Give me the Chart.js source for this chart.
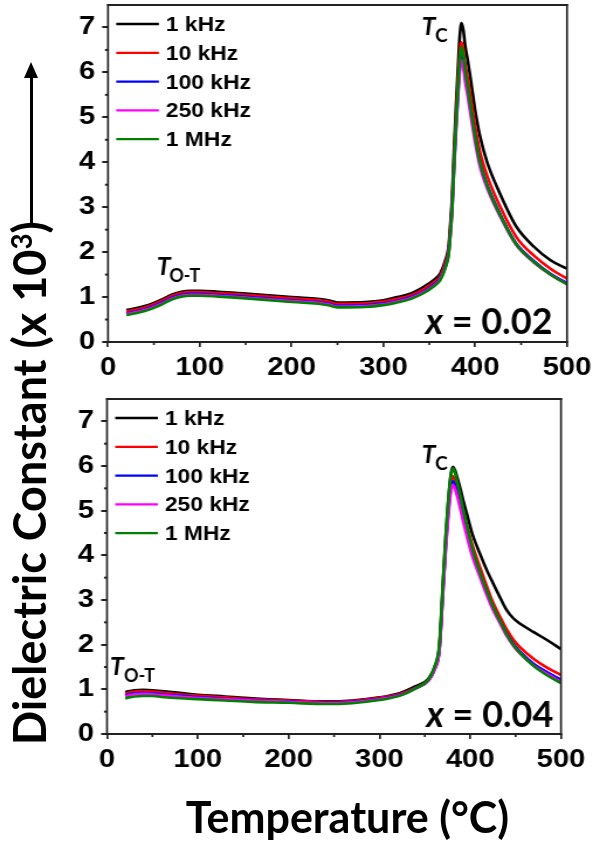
<!DOCTYPE html>
<html>
<head>
<meta charset="utf-8">
<title>Dielectric constant vs temperature</title>
<script src="https://cdn.jsdelivr.net/npm/chart.js@4.4.1/dist/chart.umd.min.js"></script>
<style>
  html, body { margin: 0; padding: 0; background: #fff; }
  body { width: 593px; height: 845px; position: relative; overflow: hidden; }
  canvas { position: absolute; left: 0; }
  .title { position: absolute; font-family: Lato, 'Open Sans', sans-serif; font-weight: 700;
           color: #000; white-space: nowrap; line-height: 1; }
  #ytitle { left: 7.1px; top: 745px; font-size: 45px; transform-origin: 0 0; transform: rotate(-90deg); }
  #ytitle sup { font-size: 0.62em; position: relative; top: -0.52em; vertical-align: baseline; line-height: 0; }
  #xtitle { left: 347.5px; top: 794.9px; font-size: 43px; transform: translateX(-50%); }
  #yline { position: absolute; left: 29.5px; top: 76px; width: 3px; height: 151px; background: #000; }
  #yhead { position: absolute; left: 24px; top: 62px; width: 0; height: 0;
           border-left: 7px solid transparent; border-right: 7px solid transparent; border-bottom: 16px solid #000; }
</style>
</head>
<body>
<canvas id="panelA" width="507" height="385" style="top:0;width:593px;height:385px"></canvas>
<canvas id="panelB" width="507" height="460" style="top:385px;width:593px;height:460px"></canvas>
<div id="ytitle" class="title">Dielectric Constant (x 10<sup>3</sup>)</div>
<div id="yline"></div>
<div id="yhead"></div>
<div id="xtitle" class="title">Temperature (°C)</div>
<script>
// ---- data -------------------------------------------------------------
const freqLabels = ['1 kHz', '10 kHz', '100 kHz', '250 kHz', '1 MHz'];
const compositions = ['0.02', '0.04'];
const xTickValues = [0, 100, 200, 300, 400, 500];
const yTickValues = [0, 1, 2, 3, 4, 5, 6, 7];

// x = 0.02 : temperature (°C) and dielectric constant (x 10^3)
const tempA = [20, 30, 40, 50, 60, 70, 80, 90, 100, 120, 150, 200, 240, 245, 250, 280, 300,
  315, 330, 344, 355, 362, 368, 371, 373, 375, 377, 379, 381, 383, 385, 387, 389, 392, 395,
  400, 405, 413, 427, 445, 464, 482, 500];
const epsA_1kHz = [0.71, 0.75, 0.80, 0.87, 0.96, 1.06, 1.12, 1.14, 1.14, 1.12, 1.08, 1.00, 0.93, 0.90, 0.88, 0.89, 0.93,
  1.00, 1.08, 1.23, 1.38, 1.53, 1.85, 2.12, 2.65, 3.30, 4.30, 5.20, 6.00, 6.75, 7.10, 6.95, 6.60, 6.25, 5.85,
  5.15, 4.60, 4.00, 3.30, 2.56, 2.12, 1.82, 1.63];
const epsA_10kHz = [0.68, 0.72, 0.77, 0.84, 0.93, 1.03, 1.09, 1.11, 1.11, 1.09, 1.05, 0.97, 0.90, 0.87, 0.85, 0.86, 0.90,
  0.96, 1.04, 1.18, 1.33, 1.47, 1.78, 2.05, 2.55, 3.15, 4.10, 4.95, 5.70, 6.35, 6.67, 6.52, 6.20, 5.85, 5.45,
  4.80, 4.25, 3.70, 3.02, 2.33, 1.92, 1.63, 1.41];
const epsA_100kHz = [0.64, 0.68, 0.73, 0.80, 0.89, 0.99, 1.05, 1.07, 1.07, 1.05, 1.01, 0.93, 0.86, 0.83, 0.81, 0.82, 0.86,
  0.92, 1.00, 1.13, 1.28, 1.42, 1.72, 1.98, 2.45, 3.05, 3.95, 4.75, 5.45, 6.08, 6.38, 6.24, 5.92, 5.58, 5.18,
  4.55, 4.02, 3.50, 2.85, 2.18, 1.80, 1.52, 1.31];
const epsA_250kHz = [0.62, 0.66, 0.71, 0.78, 0.87, 0.97, 1.03, 1.05, 1.05, 1.03, 0.99, 0.91, 0.84, 0.81, 0.79, 0.80, 0.84,
  0.90, 0.98, 1.11, 1.26, 1.40, 1.70, 1.95, 2.40, 3.00, 3.88, 4.66, 5.36, 5.98, 6.27, 6.12, 5.80, 5.45, 5.05,
  4.43, 3.92, 3.42, 2.80, 2.15, 1.77, 1.50, 1.29];
const epsA_1MHz = [0.60, 0.64, 0.69, 0.76, 0.85, 0.95, 1.01, 1.03, 1.03, 1.01, 0.97, 0.89, 0.82, 0.79, 0.77, 0.78, 0.82,
  0.88, 0.96, 1.09, 1.24, 1.38, 1.68, 1.94, 2.40, 3.00, 3.95, 4.80, 5.55, 6.22, 6.56, 6.40, 6.05, 5.65, 5.22,
  4.55, 4.02, 3.48, 2.83, 2.16, 1.78, 1.50, 1.28];

// x = 0.04
const tempB = [20, 30, 40, 50, 60, 80, 100, 130, 160, 200, 240, 270, 300, 323, 340, 354, 361, 366, 370, 373,
  375, 377, 379, 381, 383, 386, 389, 392, 396, 402, 411, 418, 425, 433, 440, 448, 455, 470, 485, 500];
const epsB_1kHz = [0.94, 0.98, 0.99, 0.98, 0.96, 0.92, 0.88, 0.84, 0.80, 0.76, 0.73, 0.75, 0.82, 0.92, 1.07, 1.24, 1.51, 1.96, 3.35, 4.40,
  5.00, 5.50, 5.85, 5.98, 5.92, 5.72, 5.50, 5.25, 4.95, 4.50, 4.02, 3.68, 3.38, 3.05, 2.78, 2.58, 2.47, 2.28, 2.10, 1.90];
const epsB_10kHz = [0.91, 0.95, 0.96, 0.95, 0.93, 0.89, 0.86, 0.82, 0.78, 0.75, 0.72, 0.74, 0.81, 0.90, 1.04, 1.21, 1.47, 1.90, 3.25, 4.25,
  4.82, 5.30, 5.65, 5.77, 5.70, 5.50, 5.28, 5.02, 4.70, 4.25, 3.72, 3.32, 2.95, 2.62, 2.35, 2.10, 1.94, 1.68, 1.48, 1.32];
const epsB_100kHz = [0.87, 0.91, 0.92, 0.91, 0.89, 0.86, 0.83, 0.79, 0.76, 0.73, 0.70, 0.72, 0.79, 0.88, 1.03, 1.20, 1.46, 1.88, 3.20, 4.18,
  4.74, 5.20, 5.54, 5.66, 5.58, 5.38, 5.14, 4.88, 4.55, 4.10, 3.58, 3.20, 2.84, 2.52, 2.25, 2.00, 1.84, 1.57, 1.38, 1.21];
const epsB_250kHz = [0.85, 0.89, 0.90, 0.89, 0.87, 0.84, 0.81, 0.78, 0.75, 0.72, 0.69, 0.71, 0.78, 0.87, 1.02, 1.19, 1.45, 1.86, 3.15, 4.12,
  4.66, 5.12, 5.46, 5.58, 5.50, 5.30, 5.05, 4.78, 4.45, 4.00, 3.50, 3.12, 2.78, 2.47, 2.20, 1.96, 1.80, 1.53, 1.34, 1.17];
const epsB_1MHz = [0.80, 0.84, 0.85, 0.85, 0.83, 0.80, 0.78, 0.75, 0.72, 0.70, 0.67, 0.69, 0.76, 0.86, 1.02, 1.22, 1.52, 2.00, 3.40, 4.45,
  5.00, 5.48, 5.82, 5.95, 5.87, 5.62, 5.35, 5.05, 4.70, 4.18, 3.60, 3.22, 2.86, 2.52, 2.24, 1.98, 1.81, 1.52, 1.31, 1.14];

// ---- styling ----------------------------------------------------------
const seriesColors = ['#000000', '#ff0000', '#0000ff', '#ff00ff', '#008000'];
const axisColor = '#222222';
const tickFont = "'Liberation Sans', Arial, sans-serif";
const noteFont = "Lato, 'Open Sans', sans-serif";
// Plot canvases are rendered 507 px wide and widened to 593 px by CSS,
// which gives the broad Arial lettering of the axes and legend.
const PLOT_W = 507;
const S = 593 / PLOT_W;

Chart.defaults.font.family = tickFont;
Chart.defaults.font.weight = 'bold';
Chart.defaults.color = '#000';

function seg(ctx, x1, y1, x2, y2) {
  ctx.beginPath(); ctx.moveTo(x1, y1); ctx.lineTo(x2, y2); ctx.stroke();
}

// frame, minor ticks, in-plot legend and the T / composition notes
const panelDecor = {
  id: 'panelDecor',
  afterDraw(chart, args, o) {
    const { ctx, chartArea: a, scales: { x, y } } = chart;
    ctx.save();
    ctx.strokeStyle = axisColor;
    ctx.lineWidth = 1.7;
    for (let i = 0; i < x.ticks.length - 1; i++) {
      const px = x.getPixelForValue((x.ticks[i].value + x.ticks[i + 1].value) / 2);
      seg(ctx, px, a.bottom, px, a.bottom + 3);
    }
    ctx.lineWidth = 2;
    for (let i = 0; i < y.ticks.length - 1; i++) {
      const py = y.getPixelForValue((y.ticks[i].value + y.ticks[i + 1].value) / 2);
      seg(ctx, a.left - 3 / S, py, a.left, py);
    }
    ctx.lineWidth = 2;
    seg(ctx, a.left - 0.85, a.top, a.right + 0.85, a.top);
    seg(ctx, a.left - 0.85, a.bottom, a.right + 0.85, a.bottom);
    ctx.lineWidth = 1.7;
    seg(ctx, a.left, a.top - 1, a.left, a.bottom + 1);
    seg(ctx, a.right, a.top - 1, a.right, a.bottom + 1);

    // legend
    ctx.font = `bold 19.5px ${tickFont}`;
    ctx.textAlign = 'left';
    ctx.textBaseline = 'alphabetic';
    chart.data.datasets.forEach((ds, i) => {
      const cy = a.top + 19 + i * 28.8;
      ctx.strokeStyle = ds.borderColor;
      ctx.lineWidth = 2.3;
      seg(ctx, a.left + 7, cy, a.left + 43.5, cy);
      ctx.fillStyle = '#000';
      ctx.fillText(ds.label, a.left + 49.5, cy + 7);
    });

    // notes are written in unstretched page pixels
    ctx.scale(1 / S, 1);
    ctx.fillStyle = '#000';
    const sub = (p, main, low, lowSize) => {
      ctx.font = `italic bold 25px ${noteFont}`;
      ctx.fillText(main, p.x, p.y);
      ctx.font = `bold ${lowSize}px ${noteFont}`;
      ctx.fillText(low, p.x + p.dx, p.y + 6.7);
    };
    sub(o.tc, 'T', 'C', 19);
    sub(o.tot, 'T', 'O-T', 18);
    ctx.font = `bold 36px ${noteFont}`;
    const rest = ' = ' + o.comp.text;
    const wRest = ctx.measureText(rest).width;
    ctx.font = `italic bold 36px ${noteFont}`;
    const wX = ctx.measureText('x').width;
    ctx.fillText('x', o.comp.right - wRest - wX, o.comp.y);
    ctx.font = `bold 36px ${noteFont}`;
    ctx.fillText(rest, o.comp.right - wRest, o.comp.y);
    ctx.restore();
  }
};

function makePanel(id, temps, series, cfg) {
  const datasets = series.map((vals, i) => ({
    label: freqLabels[i],
    data: temps.map((t, k) => ({ x: t, y: vals[k] })),
    borderColor: seriesColors[i],
    backgroundColor: seriesColors[i],
    borderWidth: 2.6,
    pointRadius: 0,
    fill: false,
    cubicInterpolationMode: 'monotone',
    order: series.length - 1 - i
  }));
  const gridOpts = (w) => ({ display: true, drawOnChartArea: false, drawTicks: true,
    tickLength: 5, color: axisColor, lineWidth: w });
  return new Chart(document.getElementById(id), {
    type: 'line',
    data: { datasets },
    options: {
      responsive: false,
      animation: false,
      devicePixelRatio: 1,
      events: [],
      layout: { padding: { left: 0, right: cfg.padRight, top: cfg.padTop, bottom: 0 } },
      plugins: {
        legend: { display: false },
        tooltip: { enabled: false },
        panelDecor: cfg.notes
      },
      scales: {
        x: {
          type: 'linear', min: 0, max: 500,
          afterBuildTicks: (s) => { s.ticks = xTickValues.map(v => ({ value: v })); },
          afterFit: (s) => { s.height = cfg.xAxisHeight; s.paddingLeft = 0; s.paddingRight = 0; },
          grid: gridOpts(1.7),
          border: { display: false },
          ticks: { padding: 6, color: '#000', font: { size: 25, weight: 'bold' },
                   maxRotation: 0, autoSkip: false }
        },
        y: {
          type: 'linear', min: 0, max: 7.5,
          afterBuildTicks: (s) => { s.ticks = yTickValues.map(v => ({ value: v })); },
          afterFit: (s) => { s.width = cfg.yAxisWidth; s.paddingTop = 0; s.paddingBottom = 0; },
          grid: gridOpts(2),
          border: { display: false },
          ticks: { padding: 6, color: '#000', font: { size: 25, weight: 'bold' } }
        }
      }
    },
    plugins: [panelDecor]
  });
}

makePanel('panelA', tempA, [epsA_1kHz, epsA_10kHz, epsA_100kHz, epsA_250kHz, epsA_1MHz], {
  padTop: 5, padRight: PLOT_W - 567 / S, yAxisWidth: 108 / S, xAxisHeight: 43,
  notes: {
    tc: { x: 421.7, y: 35, dx: 13.3 },
    tot: { x: 156.7, y: 275, dx: 12.5 },
    comp: { text: compositions[0], right: 552.5, y: 334.3 }
  }
});

makePanel('panelB', tempB, [epsB_1kHz, epsB_10kHz, epsB_100kHz, epsB_250kHz, epsB_1MHz], {
  padTop: 14, padRight: PLOT_W - 561 / S, yAxisWidth: 107 / S, xAxisHeight: 111,
  notes: {
    tc: { x: 421.7, y: 78, dx: 13.3 },
    tot: { x: 110, y: 290, dx: 14 },
    comp: { text: compositions[1], right: 553.3, y: 342 }
  }
});
</script>
</body>
</html>
